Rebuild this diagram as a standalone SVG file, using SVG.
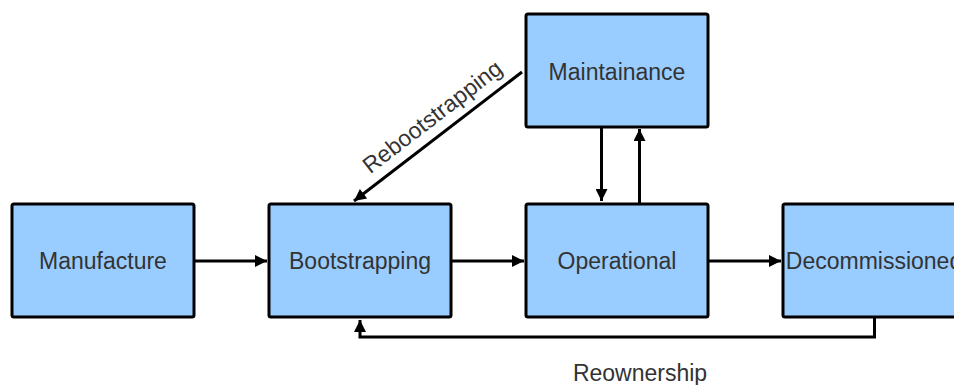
<svg xmlns="http://www.w3.org/2000/svg" width="954" height="385" viewBox="0 0 954 385">
  <style>
    .box { fill: #99ccff; stroke: #000; stroke-width: 3; }
    .label { font-family: "Liberation Sans", Arial, sans-serif; font-size: 23px; fill: #333; text-anchor: middle; dominant-baseline: central; }
    .edge { fill: none; stroke: #000; stroke-width: 3; }
    .edge-label { font-family: "Liberation Sans", Arial, sans-serif; font-size: 23px; fill: #333; text-anchor: middle; }
  </style>
  <defs>
    <marker id="arrow" viewBox="0 0 10 10" refX="10" refY="5" markerWidth="5" markerHeight="4" markerUnits="strokeWidth" orient="auto">
      <path d="M0,0 L10,5 L0,10 z" fill="#000"/>
    </marker>
  </defs>
  <rect width="954" height="385" fill="#fff"/>

  <g id="connectors">
    <line class="edge" x1="194" y1="261" x2="267" y2="261" marker-end="url(#arrow)"/>
    <line class="edge" x1="451" y1="261" x2="524" y2="261" marker-end="url(#arrow)"/>
    <line class="edge" x1="708" y1="261" x2="781" y2="261" marker-end="url(#arrow)"/>
    <line class="edge" x1="601.5" y1="127" x2="601.5" y2="201" marker-end="url(#arrow)"/>
    <line class="edge" x1="639.5" y1="203" x2="639.5" y2="129" marker-end="url(#arrow)"/>
    <line class="edge" x1="522" y1="72" x2="354" y2="201" marker-end="url(#arrow)"/>
    <polyline class="edge" points="874.5,317 874.5,337 360,337 360,320" marker-end="url(#arrow)"/>
    <text class="edge-label" transform="translate(437,123) rotate(-37.6)" y="0">Rebootstrapping</text>
    <text class="edge-label" x="640" y="381">Reownership</text>
  </g>

  <g id="manufacture">
    <rect class="box" x="12" y="204" width="182" height="113" rx="2"/>
    <text class="label" x="103" y="261">Manufacture</text>
  </g>
  <g id="bootstrapping">
    <rect class="box" x="269" y="204" width="182" height="113" rx="2"/>
    <text class="label" x="360" y="261">Bootstrapping</text>
  </g>
  <g id="operational">
    <rect class="box" x="526" y="204" width="182" height="113" rx="2"/>
    <text class="label" x="617" y="261">Operational</text>
  </g>
  <g id="decommissioned">
    <rect class="box" x="783" y="204" width="182" height="113" rx="2"/>
    <text class="label" x="874" y="261">Decommissioned</text>
  </g>
  <g id="maintainance">
    <rect class="box" x="526" y="14" width="182" height="113" rx="2"/>
    <text class="label" x="617" y="72">Maintainance</text>
  </g>
</svg>
